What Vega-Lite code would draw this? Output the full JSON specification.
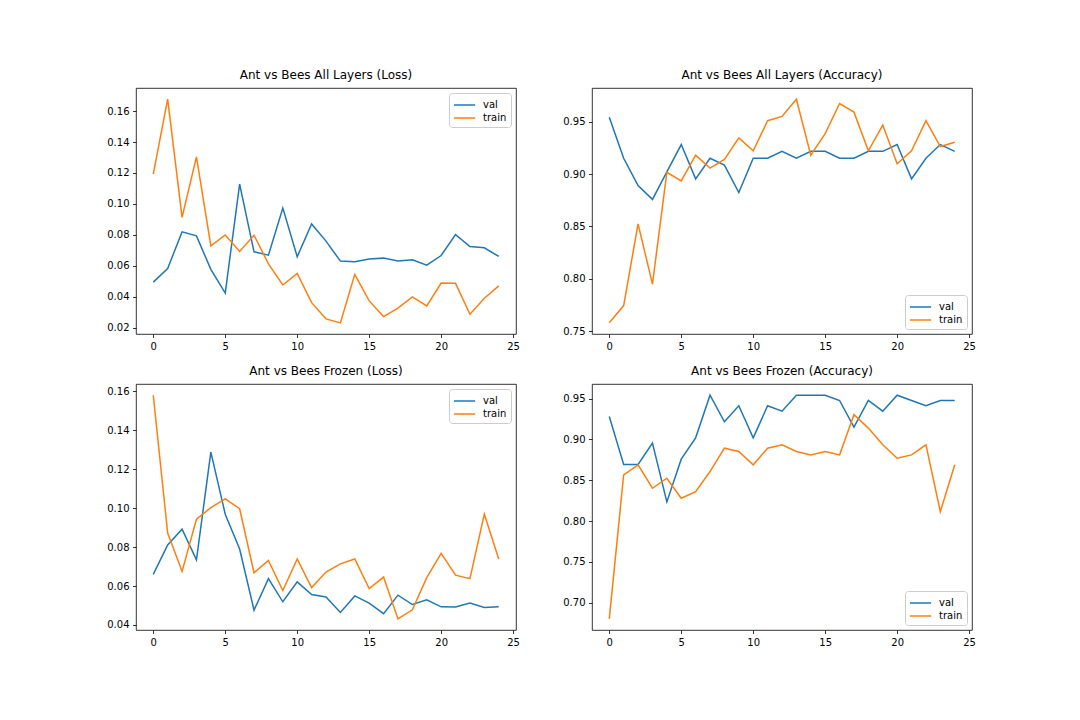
{
  "$schema": "https://vega.github.io/schema/vega-lite/v6.json",
  "background": "white",
  "padding": {"left": 106, "top": 68, "right": 10, "bottom": 10},
  "columns": 2,
  "spacing": {"row": 50, "column": 76},
  "bounds": "flush",
  "config": {
    "font": "DejaVu Sans",
    "view": {"stroke": "black", "strokeWidth": 0.8},
    "axis": {"domain": false, "grid": false, "tickColor": "black", "tickSize": 3.5, "tickWidth": 0.8, "labelFont": "DejaVu Sans", "labelFontSize": 10, "labelColor": "black", "labelPadding": 3.5, "title": null},
    "title": {"font": "DejaVu Sans", "fontSize": 12, "fontWeight": "normal", "color": "black", "offset": 6, "anchor": "middle"},
    "legend": {"title": null, "labelFont": "DejaVu Sans", "labelFontSize": 10, "labelColor": "black", "symbolType": "M-1,0H2", "symbolStrokeWidth": 1.5, "symbolSize": 200, "labelOffset": 14, "fillColor": "white", "strokeColor": "#cccccc", "cornerRadius": 3, "padding": 4, "offset": 5, "rowPadding": 0}
  },
  "datasets": {
    "p1": [
      {"epoch":0,"phase":"val","value":0.0494},{"epoch":1,"phase":"val","value":0.0582},{"epoch":2,"phase":"val","value":0.0819},{"epoch":3,"phase":"val","value":0.0793},{"epoch":4,"phase":"val","value":0.0576},{"epoch":5,"phase":"val","value":0.0423},{"epoch":6,"phase":"val","value":0.1128},{"epoch":7,"phase":"val","value":0.069},{"epoch":8,"phase":"val","value":0.0668},{"epoch":9,"phase":"val","value":0.0973},{"epoch":10,"phase":"val","value":0.0658},{"epoch":11,"phase":"val","value":0.087},{"epoch":12,"phase":"val","value":0.0759},{"epoch":13,"phase":"val","value":0.063},{"epoch":14,"phase":"val","value":0.0625},{"epoch":15,"phase":"val","value":0.0643},{"epoch":16,"phase":"val","value":0.0649},{"epoch":17,"phase":"val","value":0.063},{"epoch":18,"phase":"val","value":0.0638},{"epoch":19,"phase":"val","value":0.0604},{"epoch":20,"phase":"val","value":0.0666},{"epoch":21,"phase":"val","value":0.0801},{"epoch":22,"phase":"val","value":0.0724},{"epoch":23,"phase":"val","value":0.0716},{"epoch":24,"phase":"val","value":0.066},
      {"epoch":0,"phase":"train","value":0.1192},{"epoch":1,"phase":"train","value":0.1678},{"epoch":2,"phase":"train","value":0.0913},{"epoch":3,"phase":"train","value":0.1304},{"epoch":4,"phase":"train","value":0.0728},{"epoch":5,"phase":"train","value":0.0799},{"epoch":6,"phase":"train","value":0.0692},{"epoch":7,"phase":"train","value":0.0797},{"epoch":8,"phase":"train","value":0.0612},{"epoch":9,"phase":"train","value":0.0475},{"epoch":10,"phase":"train","value":0.055},{"epoch":11,"phase":"train","value":0.0361},{"epoch":12,"phase":"train","value":0.0256},{"epoch":13,"phase":"train","value":0.023},{"epoch":14,"phase":"train","value":0.0544},{"epoch":15,"phase":"train","value":0.0372},{"epoch":16,"phase":"train","value":0.0271},{"epoch":17,"phase":"train","value":0.0325},{"epoch":18,"phase":"train","value":0.0398},{"epoch":19,"phase":"train","value":0.034},{"epoch":20,"phase":"train","value":0.0488},{"epoch":21,"phase":"train","value":0.0486},{"epoch":22,"phase":"train","value":0.0286},{"epoch":23,"phase":"train","value":0.0389},{"epoch":24,"phase":"train","value":0.0469}
    ],
    "p2": [
      {"epoch":0,"phase":"val","value":0.9542},{"epoch":1,"phase":"val","value":0.915},{"epoch":2,"phase":"val","value":0.8889},{"epoch":3,"phase":"val","value":0.8758},{"epoch":4,"phase":"val","value":0.902},{"epoch":5,"phase":"val","value":0.9281},{"epoch":6,"phase":"val","value":0.8954},{"epoch":7,"phase":"val","value":0.915},{"epoch":8,"phase":"val","value":0.9085},{"epoch":9,"phase":"val","value":0.8824},{"epoch":10,"phase":"val","value":0.915},{"epoch":11,"phase":"val","value":0.915},{"epoch":12,"phase":"val","value":0.9216},{"epoch":13,"phase":"val","value":0.915},{"epoch":14,"phase":"val","value":0.9216},{"epoch":15,"phase":"val","value":0.9216},{"epoch":16,"phase":"val","value":0.915},{"epoch":17,"phase":"val","value":0.915},{"epoch":18,"phase":"val","value":0.9216},{"epoch":19,"phase":"val","value":0.9216},{"epoch":20,"phase":"val","value":0.9281},{"epoch":21,"phase":"val","value":0.8954},{"epoch":22,"phase":"val","value":0.915},{"epoch":23,"phase":"val","value":0.9281},{"epoch":24,"phase":"val","value":0.9216},
      {"epoch":0,"phase":"train","value":0.7582},{"epoch":1,"phase":"train","value":0.7746},{"epoch":2,"phase":"train","value":0.8525},{"epoch":3,"phase":"train","value":0.7951},{"epoch":4,"phase":"train","value":0.9016},{"epoch":5,"phase":"train","value":0.8934},{"epoch":6,"phase":"train","value":0.918},{"epoch":7,"phase":"train","value":0.9057},{"epoch":8,"phase":"train","value":0.9139},{"epoch":9,"phase":"train","value":0.9344},{"epoch":10,"phase":"train","value":0.9221},{"epoch":11,"phase":"train","value":0.9508},{"epoch":12,"phase":"train","value":0.9549},{"epoch":13,"phase":"train","value":0.9713},{"epoch":14,"phase":"train","value":0.918},{"epoch":15,"phase":"train","value":0.9385},{"epoch":16,"phase":"train","value":0.9672},{"epoch":17,"phase":"train","value":0.959},{"epoch":18,"phase":"train","value":0.9221},{"epoch":19,"phase":"train","value":0.9467},{"epoch":20,"phase":"train","value":0.9098},{"epoch":21,"phase":"train","value":0.9221},{"epoch":22,"phase":"train","value":0.9508},{"epoch":23,"phase":"train","value":0.9262},{"epoch":24,"phase":"train","value":0.9303}
    ],
    "p3": [
      {"epoch":0,"phase":"val","value":0.066},{"epoch":1,"phase":"val","value":0.0811},{"epoch":2,"phase":"val","value":0.0892},{"epoch":3,"phase":"val","value":0.0734},{"epoch":4,"phase":"val","value":0.1288},{"epoch":5,"phase":"val","value":0.0969},{"epoch":6,"phase":"val","value":0.079},{"epoch":7,"phase":"val","value":0.0476},{"epoch":8,"phase":"val","value":0.0638},{"epoch":9,"phase":"val","value":0.0519},{"epoch":10,"phase":"val","value":0.0621},{"epoch":11,"phase":"val","value":0.0556},{"epoch":12,"phase":"val","value":0.0544},{"epoch":13,"phase":"val","value":0.0464},{"epoch":14,"phase":"val","value":0.0549},{"epoch":15,"phase":"val","value":0.0512},{"epoch":16,"phase":"val","value":0.0458},{"epoch":17,"phase":"val","value":0.0553},{"epoch":18,"phase":"val","value":0.0505},{"epoch":19,"phase":"val","value":0.0529},{"epoch":20,"phase":"val","value":0.0493},{"epoch":21,"phase":"val","value":0.0492},{"epoch":22,"phase":"val","value":0.0512},{"epoch":23,"phase":"val","value":0.049},{"epoch":24,"phase":"val","value":0.0493},
      {"epoch":0,"phase":"train","value":0.158},{"epoch":1,"phase":"train","value":0.0872},{"epoch":2,"phase":"train","value":0.0675},{"epoch":3,"phase":"train","value":0.0943},{"epoch":4,"phase":"train","value":0.1003},{"epoch":5,"phase":"train","value":0.1048},{"epoch":6,"phase":"train","value":0.0997},{"epoch":7,"phase":"train","value":0.0668},{"epoch":8,"phase":"train","value":0.0731},{"epoch":9,"phase":"train","value":0.0577},{"epoch":10,"phase":"train","value":0.0739},{"epoch":11,"phase":"train","value":0.0592},{"epoch":12,"phase":"train","value":0.0672},{"epoch":13,"phase":"train","value":0.0714},{"epoch":14,"phase":"train","value":0.0739},{"epoch":15,"phase":"train","value":0.0587},{"epoch":16,"phase":"train","value":0.0646},{"epoch":17,"phase":"train","value":0.0431},{"epoch":18,"phase":"train","value":0.0478},{"epoch":19,"phase":"train","value":0.0643},{"epoch":20,"phase":"train","value":0.0768},{"epoch":21,"phase":"train","value":0.0656},{"epoch":22,"phase":"train","value":0.0638},{"epoch":23,"phase":"train","value":0.0969},{"epoch":24,"phase":"train","value":0.0739}
    ],
    "p4": [
      {"epoch":0,"phase":"val","value":0.9281},{"epoch":1,"phase":"val","value":0.8693},{"epoch":2,"phase":"val","value":0.8693},{"epoch":3,"phase":"val","value":0.8954},{"epoch":4,"phase":"val","value":0.8235},{"epoch":5,"phase":"val","value":0.8758},{"epoch":6,"phase":"val","value":0.902},{"epoch":7,"phase":"val","value":0.9542},{"epoch":8,"phase":"val","value":0.9216},{"epoch":9,"phase":"val","value":0.9412},{"epoch":10,"phase":"val","value":0.902},{"epoch":11,"phase":"val","value":0.9412},{"epoch":12,"phase":"val","value":0.9346},{"epoch":13,"phase":"val","value":0.9542},{"epoch":14,"phase":"val","value":0.9542},{"epoch":15,"phase":"val","value":0.9542},{"epoch":16,"phase":"val","value":0.9477},{"epoch":17,"phase":"val","value":0.915},{"epoch":18,"phase":"val","value":0.9477},{"epoch":19,"phase":"val","value":0.9346},{"epoch":20,"phase":"val","value":0.9542},{"epoch":21,"phase":"val","value":0.9477},{"epoch":22,"phase":"val","value":0.9412},{"epoch":23,"phase":"val","value":0.9477},{"epoch":24,"phase":"val","value":0.9477},
      {"epoch":0,"phase":"train","value":0.6803},{"epoch":1,"phase":"train","value":0.8566},{"epoch":2,"phase":"train","value":0.8689},{"epoch":3,"phase":"train","value":0.8402},{"epoch":4,"phase":"train","value":0.8525},{"epoch":5,"phase":"train","value":0.8279},{"epoch":6,"phase":"train","value":0.8361},{"epoch":7,"phase":"train","value":0.8607},{"epoch":8,"phase":"train","value":0.8893},{"epoch":9,"phase":"train","value":0.8852},{"epoch":10,"phase":"train","value":0.8689},{"epoch":11,"phase":"train","value":0.8893},{"epoch":12,"phase":"train","value":0.8934},{"epoch":13,"phase":"train","value":0.8852},{"epoch":14,"phase":"train","value":0.8811},{"epoch":15,"phase":"train","value":0.8852},{"epoch":16,"phase":"train","value":0.8811},{"epoch":17,"phase":"train","value":0.9303},{"epoch":18,"phase":"train","value":0.9139},{"epoch":19,"phase":"train","value":0.8934},{"epoch":20,"phase":"train","value":0.877},{"epoch":21,"phase":"train","value":0.8811},{"epoch":22,"phase":"train","value":0.8934},{"epoch":23,"phase":"train","value":0.8115},{"epoch":24,"phase":"train","value":0.8689}
    ]
  },
  "resolve": {"scale": {"color": "independent", "x": "independent", "y": "independent"}, "legend": {"color": "independent"}},
  "concat": [
    {
      "title": "Ant vs Bees All Layers (Loss)",
      "width": 380, "height": 246,
      "data": {"name": "p1"},
      "mark": {"type": "line", "strokeWidth": 1.5},
      "encoding": {
        "x": {"field": "epoch", "type": "quantitative", "scale": {"domain": [-1.2, 25.2], "nice": false, "zero": false}, "axis": {"values": [0, 5, 10, 15, 20, 25]}},
        "y": {"field": "value", "type": "quantitative", "scale": {"domain": [0.0158, 0.175], "nice": false, "zero": false}, "axis": {"values": [0.02, 0.04, 0.06, 0.08, 0.10, 0.12, 0.14, 0.16], "format": ".2f"}},
        "color": {"field": "phase", "type": "nominal", "scale": {"domain": ["val", "train"], "range": ["#1f77b4", "#ff7f0e"]}, "legend": {"orient": "top-right"}}
      }
    },
    {
      "title": "Ant vs Bees All Layers (Accuracy)",
      "width": 380, "height": 246,
      "data": {"name": "p2"},
      "mark": {"type": "line", "strokeWidth": 1.5},
      "encoding": {
        "x": {"field": "epoch", "type": "quantitative", "scale": {"domain": [-1.2, 25.2], "nice": false, "zero": false}, "axis": {"values": [0, 5, 10, 15, 20, 25]}},
        "y": {"field": "value", "type": "quantitative", "scale": {"domain": [0.7475, 0.982], "nice": false, "zero": false}, "axis": {"values": [0.75, 0.80, 0.85, 0.90, 0.95], "format": ".2f"}},
        "color": {"field": "phase", "type": "nominal", "scale": {"domain": ["val", "train"], "range": ["#1f77b4", "#ff7f0e"]}, "legend": {"orient": "bottom-right"}}
      }
    },
    {
      "title": "Ant vs Bees Frozen (Loss)",
      "width": 380, "height": 246,
      "data": {"name": "p3"},
      "mark": {"type": "line", "strokeWidth": 1.5},
      "encoding": {
        "x": {"field": "epoch", "type": "quantitative", "scale": {"domain": [-1.2, 25.2], "nice": false, "zero": false}, "axis": {"values": [0, 5, 10, 15, 20, 25]}},
        "y": {"field": "value", "type": "quantitative", "scale": {"domain": [0.0374, 0.1638], "nice": false, "zero": false}, "axis": {"values": [0.04, 0.06, 0.08, 0.10, 0.12, 0.14, 0.16], "format": ".2f"}},
        "color": {"field": "phase", "type": "nominal", "scale": {"domain": ["val", "train"], "range": ["#1f77b4", "#ff7f0e"]}, "legend": {"orient": "top-right"}}
      }
    },
    {
      "title": "Ant vs Bees Frozen (Accuracy)",
      "width": 380, "height": 246,
      "data": {"name": "p4"},
      "mark": {"type": "line", "strokeWidth": 1.5},
      "encoding": {
        "x": {"field": "epoch", "type": "quantitative", "scale": {"domain": [-1.2, 25.2], "nice": false, "zero": false}, "axis": {"values": [0, 5, 10, 15, 20, 25]}},
        "y": {"field": "value", "type": "quantitative", "scale": {"domain": [0.6666, 0.9679], "nice": false, "zero": false}, "axis": {"values": [0.70, 0.75, 0.80, 0.85, 0.90, 0.95], "format": ".2f"}},
        "color": {"field": "phase", "type": "nominal", "scale": {"domain": ["val", "train"], "range": ["#1f77b4", "#ff7f0e"]}, "legend": {"orient": "bottom-right"}}
      }
    }
  ]
}
